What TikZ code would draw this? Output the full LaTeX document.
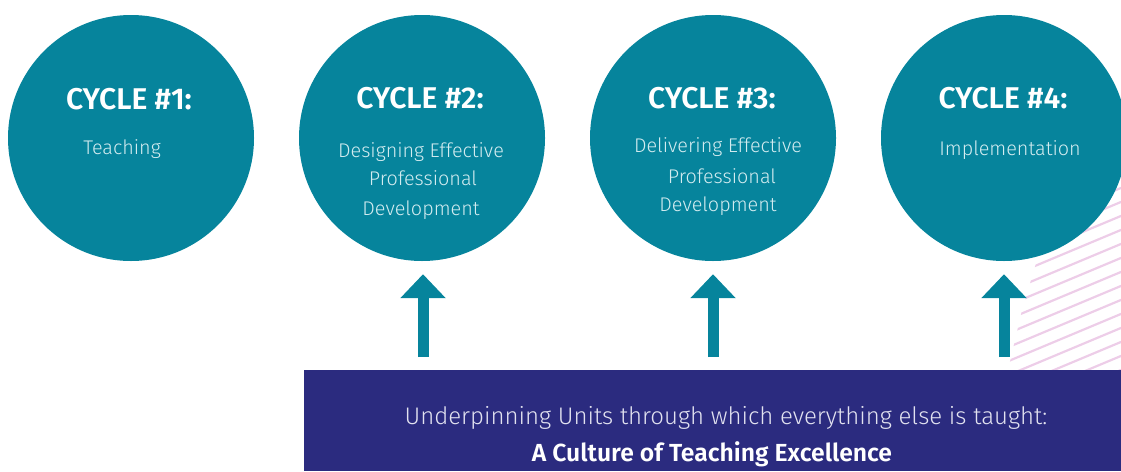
\documentclass[tikz,border=0pt]{standalone}
\usepackage{fontspec}
\setmainfont{Fira Sans}[UprightFont=* Light, BoldFont=* SemiBold]
\usetikzlibrary{arrows.meta}
\definecolor{cycteal}{HTML}{06849C}
\definecolor{basenavy}{HTML}{2B2B7F}
\definecolor{hatchpink}{HTML}{EDCDE8}
\definecolor{bodytxt}{HTML}{D3ECF0}
\definecolor{basetxt}{HTML}{E2E2F0}
\tikzset{
  cyc/.style={circle, fill=cycteal, minimum size=246pt, inner sep=0pt},
  cyctitle/.style={anchor=base, text=white, font=\bfseries\fontsize{30}{32}\selectfont, inner sep=0pt},
  cycbody/.style={anchor=base, text=bodytxt, font=\fontsize{19.8}{23}\selectfont, inner sep=0pt},
  basebox/.style={fill=basenavy, anchor=north west, minimum width=817pt, minimum height=101pt, inner sep=0pt},
  baselight/.style={anchor=base, text=basetxt, font=\fontsize{24}{27}\selectfont, inner sep=0pt},
  basebold/.style={anchor=base, text=white, font=\bfseries\fontsize{24.7}{27}\selectfont, inner sep=0pt},
  hatchline/.style={draw=hatchpink, line width=2.2pt},
  uparrow/.style={draw=cycteal, line width=11pt, -{Triangle[width=44pt,length=24pt]}}
}
\begin{document}
\begin{tikzpicture}[x=1pt,y=-1pt]
\useasboundingbox (0,0) rectangle (1121,471);
% hatched decoration
\begin{scope}
  \clip (1121,140) -- (1065,185) -- (1040,250) -- (1022,310) -- (1008,370) -- (1121,370) -- cycle;
  \foreach \k in {-10,...,12}
    \draw[hatchline] (990,284.8+14*\k) -- ++(160,-67);
\end{scope}
% circles
\node[cyc] (c1) at (131,138) {};
\node[cyc] (c2) at (422,138) {};
\node[cyc] (c3) at (713,138) {};
\node[cyc] (c4) at (1004,138) {};
% titles
\node[cyctitle] (t1) at (129,109) {CYCLE \#1:};
\node[cyctitle] (t2) at (420,108) {CYCLE \#2:};
\node[cyctitle] (t3) at (712,108) {CYCLE \#3:};
\node[cyctitle] (t4) at (1003,108) {CYCLE \#4:};
% bodies
\node[cycbody] (b1) at (122,154) {Teaching};
\node[cycbody] (b2a) at (421,157) {Designing Effective};
\node[cycbody] (b2b) at (423,185) {Professional};
\node[cycbody] (b2c) at (421,215) {Development};
\node[cycbody] (b3a) at (718,152) {Delivering Effective};
\node[cycbody] (b3b) at (722,183) {Professional};
\node[cycbody] (b3c) at (718,211) {Development};
\node[cycbody] (b4) at (1010,155) {Implementation};
% base box
\node[basebox] (base) at (304,370) {};
\node[baselight] (u1) at (726,424) {Underpinning Units through which everything else is taught:};
\node[basebold] (u2) at (712,461) {A Culture of Teaching Excellence};
% arrows
\path (c2.south) ++(1,13) coordinate (a2e);
\path (c3.south) ++(0,13) coordinate (a3e);
\path (c4.south) ++(0,13) coordinate (a4e);
\path (base.north -| a2e) ++(0,-13) coordinate (a2s);
\path (base.north -| a3e) ++(0,-13) coordinate (a3s);
\path (base.north -| a4e) ++(0,-13) coordinate (a4s);
\draw[uparrow] (a2s) -- (a2e);
\draw[uparrow] (a3s) -- (a3e);
\draw[uparrow] (a4s) -- (a4e);
\end{tikzpicture}
\end{document}
